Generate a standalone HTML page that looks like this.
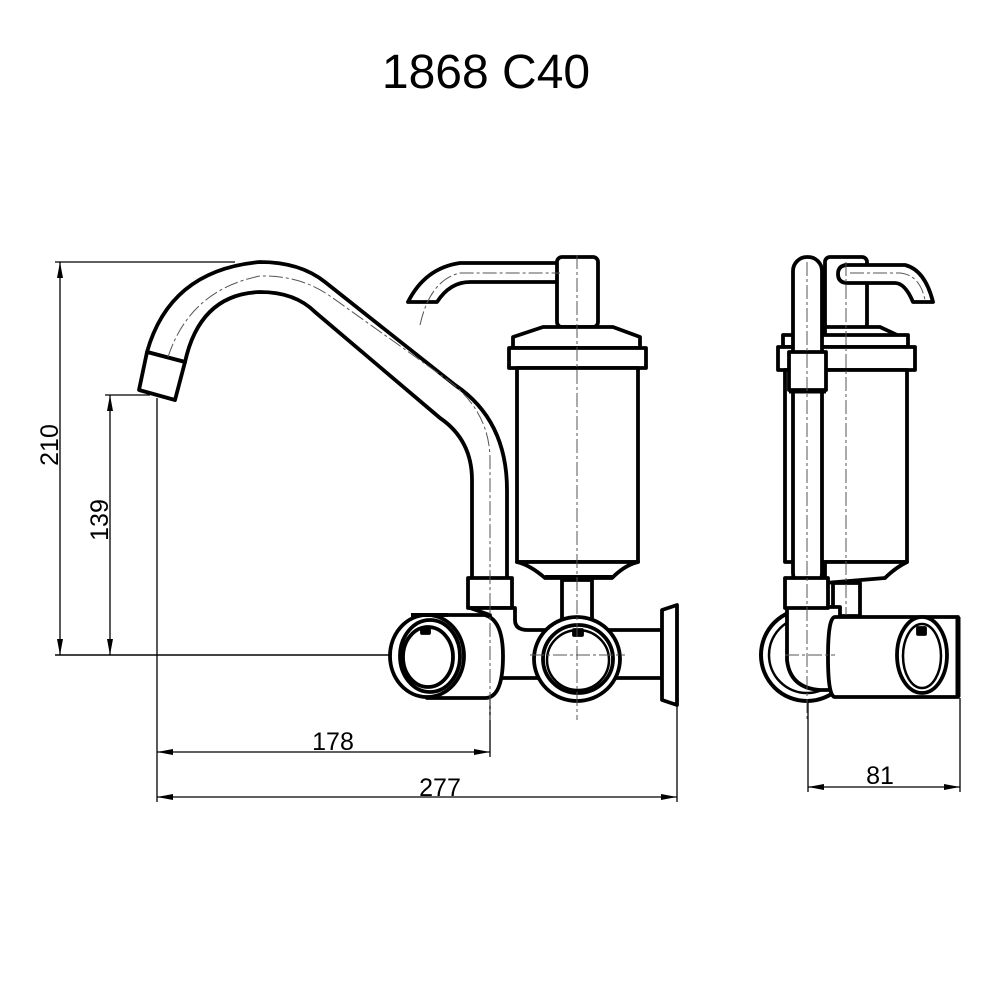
<!DOCTYPE html>
<html><head><meta charset="utf-8"><style>html,body{margin:0;padding:0;background:#fff}svg{display:block}</style></head>
<body>
<svg width="1000" height="1000" viewBox="0 0 1000 1000" xmlns="http://www.w3.org/2000/svg" font-family="Liberation Sans, sans-serif">
<rect width="1000" height="1000" fill="#fff"/>
<text x="486" y="88" font-size="48" text-anchor="middle">1868 C40</text>

<g stroke="#000" stroke-width="1.3" fill="none">
  <line x1="55" y1="262" x2="235" y2="262"/>
  <line x1="55" y1="655" x2="390" y2="655" stroke="#444" stroke-width="2"/>
  <line x1="105" y1="395" x2="150" y2="395"/>
  <line x1="157" y1="398" x2="157" y2="802"/>
  <line x1="490" y1="690" x2="490" y2="757"/>
  <line x1="677" y1="700" x2="677" y2="802"/>
  <line x1="808" y1="698" x2="808" y2="792"/>
  <line x1="960" y1="698" x2="960" y2="792"/>
  <line x1="60" y1="262" x2="60" y2="655"/>
  <line x1="110" y1="395" x2="110" y2="655"/>
  <line x1="157" y1="752" x2="490" y2="752"/>
  <line x1="157" y1="797" x2="677" y2="797"/>
  <line x1="808" y1="787" x2="960" y2="787"/>
</g>
<g fill="#000">
  <polygon points="60,262 57,278 63,278"/><polygon points="60,655 57,639 63,639"/>
  <polygon points="110,395 107,411 113,411"/><polygon points="110,655 107,639 113,639"/>
  <polygon points="157,752 173,749 173,755"/><polygon points="490,752 474,749 474,755"/>
  <polygon points="157,797 173,794 173,800"/><polygon points="677,797 661,794 661,800"/>
  <polygon points="808,787 824,784 824,790"/><polygon points="960,787 944,784 944,790"/>
</g>
<g font-size="25" text-anchor="middle">
  <text x="0" y="0" transform="translate(58,445) rotate(-90)">210</text>
  <text x="0" y="0" transform="translate(108,520) rotate(-90)">139</text>
  <text x="333" y="750">178</text>
  <text x="440" y="796">277</text>
  <text x="880" y="784">81</text>
</g>

<g stroke="#000" stroke-width="3.8" fill="#fff" stroke-linejoin="round">
  <path d="M147,352 Q170,270 260,262 Q300,262 325,282 L455,385 Q507,420 507,490 L507,580 L472,580 L472,480 Q472,440 440,418 L315,312 Q295,292 260,292 Q200,294 185,362 Z"/>
  <polygon points="147,352 185,362 175,400 139,390"/>
  <rect x="468" y="578" width="44" height="30"/>

  <path d="M470,608 L515,608 L515,620 Q515,630 528,630 L662,630 L662,678 L490,678 L490,615 Z"/>
  <path d="M427,615 L485,615 Q503,620 503,656 Q503,698 485,698 L427,698 Z"/>
  <ellipse cx="427" cy="656" rx="37" ry="41"/>
  <ellipse cx="430" cy="656" rx="30" ry="36"/>
  <ellipse cx="428" cy="657" rx="25" ry="30"/>
  <rect x="422" y="628" width="7" height="5" fill="#000"/>
  <line x1="411" y1="615" x2="448" y2="615" stroke-width="4"/>
  <rect x="562" y="580" width="30" height="40"/>
  <ellipse cx="577" cy="659" rx="43" ry="42"/>
  <ellipse cx="578" cy="659" rx="35" ry="34"/>
  <ellipse cx="578" cy="660" rx="31" ry="30" stroke-width="2.5"/>
  <rect x="574" y="630" width="8" height="5" fill="#000"/>
  <path d="M662,610 L677,605 L677,705 L662,700 Z"/>

  <path d="M560,263 L460,263 Q425,268 408,302 L437,302 Q450,282 470,282 L560,282 Z"/>
  <rect x="557" y="257" width="41" height="70" rx="5"/>
  <path d="M543,327 L613,327 L640,337 L640,348 L513,348 L513,337 Z"/>
  <rect x="509" y="348" width="137" height="20"/>
  <rect x="517" y="368" width="121" height="194"/>
  <path d="M517,562 L638,562 Q625,565 612,578 L545,578 Q530,565 517,562 Z"/>
  <line x1="545" y1="577" x2="612" y2="577" stroke-width="4"/>

  <rect x="825" y="257" width="42" height="72" rx="5"/>
  <path d="M845,265 L905,265 Q925,270 933,302 L913,302 Q905,283 895,283 L848,283 Q838,283 838,274 Q838,265 848,265 Z"/>
  <path d="M825,327 L880,327 L897,335 L897,347 L825,347 Z"/>
  <rect x="783" y="335" width="125" height="12"/>
  <rect x="778" y="347" width="137" height="23"/>
  <rect x="785" y="370" width="122" height="192"/>
  <path d="M825,562 L907,562 Q895,568 885,578 L825,583 Z"/>
  <rect x="833" y="583" width="27" height="33"/>
  <rect x="793" y="257" width="29" height="330" rx="14"/>
  <rect x="789" y="352" width="37" height="38"/>
  <line x1="789" y1="391" x2="826" y2="391" stroke-width="5"/>
  <circle cx="807" cy="655" r="46" stroke-width="4"/>
  <circle cx="807" cy="655" r="38" stroke-width="2.5"/>
  <path d="M787,607 L787,660 Q790,688 820,690 L840,690 L840,607 Z"/>
  <rect x="785" y="578" width="43" height="30"/>
  <path d="M835,617 L958,617 L958,697 L835,697 Q828,697 828,657 Q828,617 835,617 Z"/>
  <ellipse cx="922" cy="655" rx="25" ry="38"/>
  <ellipse cx="922" cy="656" rx="19" ry="32" stroke-width="2.5"/>
  <rect x="918" y="628" width="7" height="6" fill="#000"/>
  <line x1="958" y1="617" x2="958" y2="697" stroke-width="5"/>
</g>

<g stroke="#555" stroke-width="1" fill="none" stroke-dasharray="14,3,3,3">
  <path d="M168,357 Q190,290 260,276 Q300,275 330,296 L445,378 Q490,410 490,460 L490,600"/>
  <line x1="577" y1="255" x2="577" y2="720"/>
  <line x1="490" y1="600" x2="490" y2="720"/>
  <path d="M420,325 Q430,280 460,273 L560,273"/>
  <line x1="807" y1="262" x2="807" y2="720"/>
  <line x1="846" y1="262" x2="846" y2="615"/>
  <path d="M850,273 L900,273 Q920,275 925,300"/>
  <line x1="530" y1="655" x2="625" y2="655"/>
  <line x1="785" y1="655" x2="835" y2="655"/>
</g>
</svg>
</body></html>
